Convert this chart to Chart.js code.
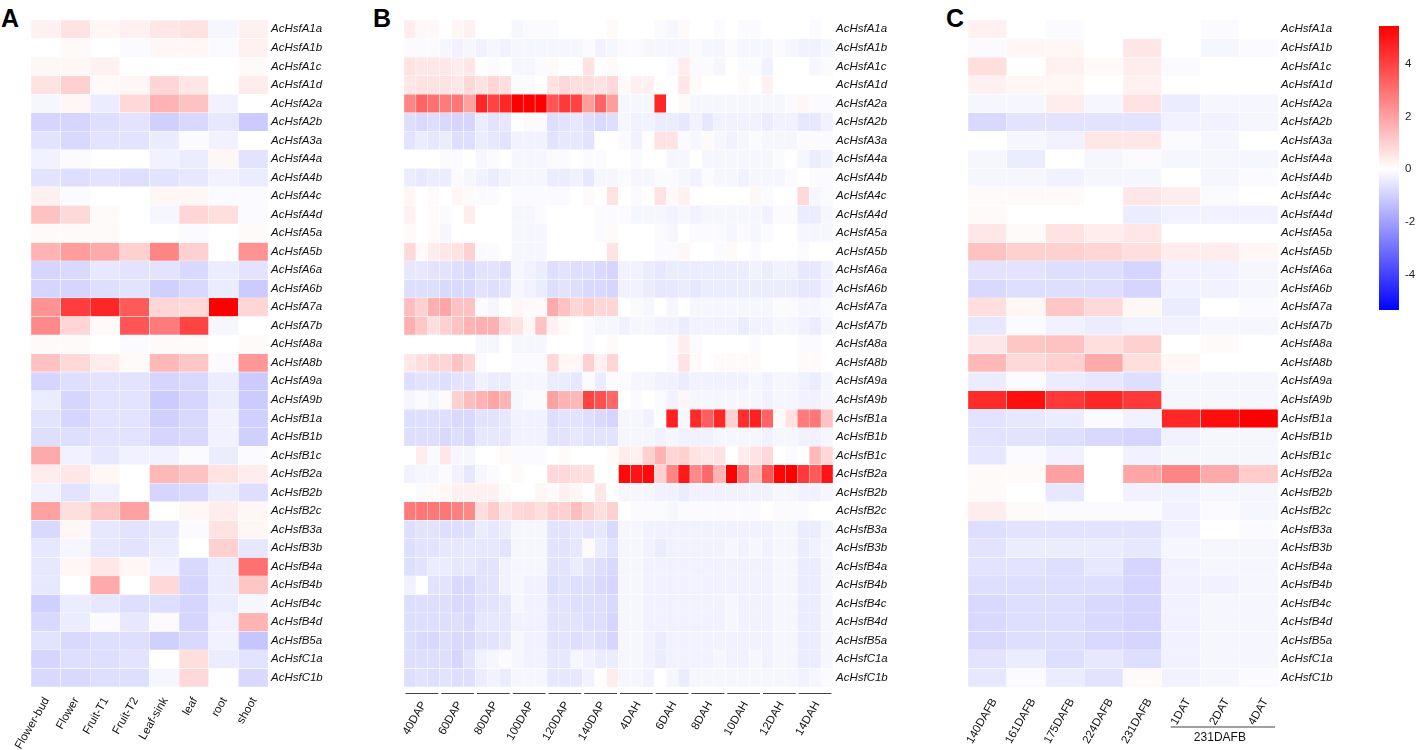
<!DOCTYPE html>
<html>
<head>
<meta charset="utf-8">
<script src="https://cdn.jsdelivr.net/npm/chart.js@4.4.1/dist/chart.umd.min.js"></script>
<style>
  body { margin: 0; background: #fff; }
  #wrap { position: relative; width: 1418px; height: 750px; overflow: hidden; }
  canvas { position: absolute; top: 0; }
  .tag { position: absolute; font: bold 25px "Liberation Sans", Arial, sans-serif; color: #000; }
</style>
</head>
<body>
<div id="wrap">
  <div class="tag" style="left:1px;top:4px">A</div>
  <div class="tag" style="left:373px;top:4px">B</div>
  <div class="tag" style="left:946px;top:4px">C</div>
  <canvas id="panelA" width="372" height="750" style="left:0"></canvas>
  <canvas id="panelB" width="540" height="750" style="left:372px"></canvas>
  <canvas id="panelC" width="450" height="750" style="left:912px"></canvas>
  <canvas id="legend" width="56" height="330" style="left:1362px"></canvas>
</div>
<script>
'use strict';
const genes = ['AcHsfA1a','AcHsfA1b','AcHsfA1c','AcHsfA1d','AcHsfA2a','AcHsfA2b','AcHsfA3a','AcHsfA4a','AcHsfA4b','AcHsfA4c','AcHsfA4d','AcHsfA5a','AcHsfA5b','AcHsfA6a','AcHsfA6b','AcHsfA7a','AcHsfA7b','AcHsfA8a','AcHsfA8b','AcHsfA9a','AcHsfA9b','AcHsfB1a','AcHsfB1b','AcHsfB1c','AcHsfB2a','AcHsfB2b','AcHsfB2c','AcHsfB3a','AcHsfB3b','AcHsfB4a','AcHsfB4b','AcHsfB4c','AcHsfB4d','AcHsfB5a','AcHsfC1a','AcHsfC1b'];

// panel A: tissues
const tissues = ['Flower-bud','Flower','Fruit-T1','Fruit-T2','Leaf-sink','leaf','root','shoot'];
const tissueVals = [
  [0.3,0.6,0.2,0.3,0.5,0.6,-0.2,0.3],
  [0,0.1,0,-0.1,0.2,0.2,-0.1,0.3],
  [0.2,0.2,0.3,0,0,0,0,0.1],
  [0.6,1.0,0.1,0.2,0.9,0.5,0,0.4],
  [-0.2,0.2,-0.4,0.8,1.6,1.3,-0.3,0],
  [-0.9,-0.9,-0.7,-0.6,-1.0,-0.8,-0.5,-1.1],
  [-0.6,-0.8,-0.6,-0.6,-0.4,-0.1,-0.3,0],
  [-0.3,-0.1,0,0,-0.3,-0.4,0.2,-0.6],
  [-0.6,-0.7,-0.6,-0.7,-0.6,-0.5,-0.3,-0.4],
  [0.3,-0.1,0,0,0.2,0.2,-0.1,-0.1],
  [1.3,0.8,0.1,0,-0.2,0.9,0.7,-0.1],
  [0.1,0.1,0.1,0,0,-0.1,0,0.1],
  [1.6,2.1,1.8,1.0,2.6,1.0,0,2.3],
  [-0.9,-0.8,-0.5,-0.6,-0.6,-0.8,-0.4,-0.6],
  [-0.9,-0.9,-0.7,-0.6,-1.0,-0.8,-0.4,-1.1],
  [2.3,4.1,4.6,3.5,0.9,0.8,5.4,0.9],
  [2.5,0.9,0.1,3.6,2.8,4.0,-0.2,0],
  [0.1,0.1,0,-0.1,0.1,0.1,0,0.1],
  [1.3,0.8,0.4,0.1,1.5,1.2,-0.1,2.2],
  [-0.9,-0.7,-0.6,-0.6,-0.9,-0.8,-0.4,-1.1],
  [-0.4,-0.9,-0.6,-0.6,-1.1,-0.9,-0.4,-1.1],
  [-0.6,-0.9,-0.6,-0.6,-1.0,-0.8,-0.3,-1.0],
  [-0.7,-0.7,-0.6,-0.6,-0.9,-0.8,-0.3,-1.0],
  [1.8,-0.3,-0.5,-0.3,-0.3,-0.1,-0.4,-0.1],
  [0.4,0.5,0.2,0,1.5,1.3,0.6,0.4],
  [-0.3,-0.6,-0.3,0,-0.9,-0.8,-0.4,-0.7],
  [2.0,0.7,1.2,2.0,0,0.2,0.4,0.2],
  [-0.8,0.2,-0.5,-0.6,-0.5,-0.1,0.6,0.2],
  [-0.5,-0.2,-0.5,-0.6,-0.4,0,1.0,-0.5],
  [-0.5,0.2,0.5,0.2,-0.3,-0.8,-0.4,3.0],
  [-0.5,0,1.8,0,0.8,-0.9,-0.4,1.2],
  [-1.0,-0.4,-0.5,-0.7,-0.7,-0.9,-0.4,-0.2],
  [-0.8,-0.4,-0.1,-0.5,-0.1,-0.9,-0.3,1.6],
  [-0.6,-0.8,-0.7,-0.7,-1.0,-0.8,-0.3,-1.2],
  [-0.9,-0.7,-0.7,-0.6,0,0.7,-0.4,-0.6],
  [-0.8,-0.8,-0.7,-0.7,-0.2,0.8,0,-0.8]
];

// panel B: fruit development and storage, 3 replicates per stage
const devStages = ['40DAP','60DAP','80DAP','100DAP','120DAP','140DAP','4DAH','6DAH','8DAH','10DAH','12DAH','14DAH'];
const devReps = ['1','2','3'];
const devVals = [
  [0.4,0.15,0.15,0,0.2,0.3,0,0,0,-0.2,-0.1,-0.1,-0.1,0,0,0,0,0.1, 0,0,0,-0.1,-0.2,0.1,0,0,-0.1,0,-0.1,-0.1,0,0,0,0,-0.1,0],
  [-0.1,-0.1,-0.1,-0.2,-0.3,-0.2,-0.3,-0.2,-0.3,-0.2,-0.2,-0.2,-0.2,-0.2,-0.2,-0.1,-0.3,-0.2, -0.1,-0.1,-0.2,-0.2,-0.2,-0.2,-0.1,-0.2,-0.2,-0.1,-0.2,-0.2,-0.2,-0.1,-0.2,-0.3,-0.3,-0.2],
  [0.6,0.5,0.5,0.5,0.4,0.5,0,-0.1,0,-0.2,-0.2,-0.1,0.1,0,0,0.6,0,0.1, 0,0,0,0,-0.1,0.4,-0.1,-0.1,-0.2,0,-0.1,-0.1,-0.3,0,0,0,-0.2,-0.1],
  [0.5,0.6,0.6,0.6,0.5,0.8,0.6,0.9,0.7,-0.1,-0.1,0,0.6,0.8,0.7,0.7,0.6,0.8, 0.1,0.3,0.3,0,0,0.5,0.1,0,0,0,0.1,0,0.3,0,0,0,0,0],
  [2.6,3.3,3.0,2.8,2.9,2.0,4.6,4.0,4.6,5.4,5.4,5.4,3.6,4.2,4.0,2.1,3.3,2.1, -0.2,-0.2,-0.2,4.6,0,0.1,-0.2,-0.2,-0.2,-0.2,-0.2,-0.2,-0.2,-0.2,-0.1,0.2,-0.1,-0.1],
  [-0.7,-0.8,-0.7,-0.8,-0.9,-0.9,-0.4,-0.6,-0.5,0,0.1,-0.1,-0.7,-0.6,-0.5,-0.7,-0.8,-0.7, -0.2,-0.3,-0.3,-0.4,-0.4,-0.5,-0.3,-0.5,-0.3,-0.3,-0.3,-0.3,-0.4,-0.3,-0.3,-0.5,-0.5,-0.3],
  [-0.6,-0.4,-0.5,-0.4,-0.7,-0.7,-0.4,-0.5,-0.6,-0.3,-0.3,-0.3,-0.6,-0.5,-0.5,-0.6,0,0, -0.1,-0.3,0,0.6,0.6,-0.1,-0.2,0.1,-0.2,-0.3,-0.2,-0.1,-0.2,-0.2,-0.2,-0.1,-0.1,-0.1],
  [0,0,0,-0.1,-0.1,0,-0.2,-0.1,0,-0.2,-0.2,-0.2,-0.1,-0.1,0,-0.1,-0.1,0, 0,-0.1,0,0,-0.2,-0.2,0,-0.2,-0.2,-0.2,-0.2,-0.2,-0.2,-0.1,0,-0.2,-0.4,-0.3],
  [-0.4,-0.5,-0.4,-0.4,-0.1,-0.2,-0.3,-0.4,-0.3,-0.2,-0.2,-0.2,-0.4,-0.4,-0.3,-0.5,-0.2,-0.2, -0.1,-0.2,-0.2,-0.1,-0.1,-0.2,-0.3,-0.1,-0.2,-0.2,-0.3,-0.2,-0.2,-0.2,-0.1,0,-0.1,-0.1],
  [0.2,0,0.1,0,0.2,0.1,-0.1,-0.1,0,-0.1,-0.1,-0.1,-0.1,-0.1,0,0.1,0,0.6, 0,-0.1,0,0.6,0.1,0.3,0,0,0,0,0,0.2,-0.1,0,0,0.8,-0.2,-0.1],
  [0.3,0,0.1,-0.1,0,0.4,0,0,0,-0.2,-0.2,-0.1,0,0,0,0,-0.1,-0.1, -0.1,-0.2,-0.2,-0.2,-0.3,-0.2,-0.3,-0.2,-0.2,-0.2,-0.2,-0.2,-0.3,-0.1,-0.1,-0.4,-0.4,-0.2],
  [0.1,0,0.1,-0.2,0,0,0,0,0,-0.2,-0.2,-0.2,0,0,0,0,-0.1,0.1, 0,0,0,-0.1,-0.2,0,-0.1,-0.1,-0.1,-0.2,-0.1,-0.2,-0.1,0,0,-0.2,-0.2,-0.2],
  [0.8,0.1,0.4,0.5,0.6,1.0,-0.1,-0.1,0,-0.2,-0.2,-0.2,0,0,0,0,0,0.6, 0,0,0,-0.1,-0.1,0.2,0,0,-0.1,0.1,0,-0.1,0,0,0,-0.1,0,0],
  [-0.5,-0.5,-0.6,-0.6,-0.7,-0.8,-0.6,-0.6,-0.7,-0.2,-0.3,-0.4,-0.7,-0.6,-0.7,-0.7,-0.8,-0.9, -0.3,-0.3,-0.4,-0.5,-0.4,-0.4,-0.4,-0.4,-0.4,-0.4,-0.4,-0.3,-0.4,-0.3,-0.3,-0.5,-0.5,-0.3],
  [-0.7,-0.7,-0.7,-0.8,-0.8,-0.8,-0.6,-0.7,-0.6,-0.2,-0.3,-0.4,-0.7,-0.6,-0.7,-0.8,-0.8,-0.9, -0.3,-0.3,-0.4,-0.5,-0.5,-0.4,-0.5,-0.4,-0.4,-0.4,-0.4,-0.4,-0.4,-0.4,-0.4,-0.5,-0.5,-0.3],
  [1.4,1.0,1.7,1.9,1.3,1.3,-0.1,-0.2,0,0.2,0.1,0.1,1.8,1.3,0.9,1.1,0.9,0.9, 0,-0.1,-0.2,0,-0.2,0,-0.2,-0.2,-0.2,-0.2,-0.2,-0.2,-0.2,-0.1,-0.1,-0.2,-0.2,-0.1],
  [1.7,1.2,0.7,1.0,1.3,1.6,1.7,1.7,0.8,0.6,0.2,1.3,0.3,0.1,0,-0.1,-0.2,-0.2, -0.3,-0.2,-0.2,-0.3,-0.3,-0.4,-0.3,-0.3,-0.3,-0.3,-0.4,-0.3,-0.3,-0.2,-0.2,-0.3,-0.4,-0.2],
  [0,0,0,0,0,0,-0.2,-0.2,0,-0.2,-0.2,-0.2,0,0,0,-0.1,0,0.1, 0,0,0,0,-0.1,0.4,-0.1,0,0,0,0,-0.1,0,0,0,-0.1,-0.1,0],
  [0.5,0.7,0.9,0.9,1.3,0.9,-0.1,0,0,-0.1,-0.1,-0.1,0.8,0.2,0.2,1.0,0.3,0.9, 0,0,0,0,-0.1,0.6,0.1,0,0.1,0.1,0.1,0.1,0,0,0,0.1,0.1,0],
  [-0.7,-0.6,-0.6,-0.7,-0.6,-0.6,-0.3,-0.4,-0.4,-0.2,-0.2,-0.2,-0.4,-0.4,-0.5,-0.1,-0.4,-0.1, -0.1,-0.2,-0.2,-0.3,-0.3,-0.4,-0.3,-0.3,-0.3,-0.3,-0.3,-0.2,-0.3,-0.2,-0.2,-0.3,-0.4,-0.2],
  [-0.2,-0.1,-0.2,0.1,1.0,1.4,1.6,1.9,1.6,-0.2,-0.1,-0.1,2.0,1.6,1.5,4.0,3.7,3.2, 0,-0.1,0,-0.1,-0.3,0.2,-0.2,-0.2,-0.2,-0.2,-0.2,-0.2,-0.3,-0.2,-0.2,-0.3,-0.3,-0.2],
  [-0.7,-0.7,-0.7,-0.7,-0.8,-0.8,-0.6,-0.6,-0.5,-0.3,-0.3,-0.3,-0.7,-0.6,-0.6,-0.7,-0.8,-0.9, -0.2,-0.2,-0.3,0,4.7,-0.2,4.5,3.4,4.6,1.0,4.4,4.7,3.3,0.1,0.6,2.8,2.9,1.3],
  [-0.7,-0.7,-0.7,-0.8,-0.7,-0.8,-0.5,-0.5,-0.5,-0.3,-0.3,-0.3,-0.6,-0.6,-0.5,-0.6,-0.6,-0.6, -0.2,-0.2,-0.2,-0.3,-0.2,-0.3,-0.3,-0.3,-0.2,-0.2,-0.2,-0.2,-0.3,-0.2,-0.2,-0.3,-0.3,-0.2],
  [0,0.4,-0.1,0.5,-0.2,-0.2,0,0,0.1,-0.1,-0.1,-0.1,0,0.1,0,0,0,0.1, 0.4,0.3,1.0,1.6,0.9,1.0,0.6,0.5,0.6,0,0.4,0.6,0.8,0,-0.1,0,1.5,0.8],
  [-0.3,-0.2,-0.2,-0.1,-0.3,-0.5,-0.2,-0.1,0,0.1,0,0,0.8,0.8,0.7,0.7,0,0, 5.2,5.0,5.2,1.0,2.6,4.9,2.5,3.2,1.6,5.4,2.9,1.5,3.6,5.3,5.4,4.2,3.5,5.0],
  [0,-0.1,0.1,0.2,0.3,0.3,0.3,0.3,0.1,0,0,0.2,0.1,0.3,0.2,0,0.5,0, -0.2,-0.2,-0.2,-0.3,-0.3,-0.4,-0.3,-0.3,-0.3,-0.3,-0.3,-0.3,-0.3,-0.2,-0.2,-0.3,-0.3,-0.2],
  [2.8,2.9,2.9,2.9,2.7,2.5,0.7,1.1,0.6,0.8,0.9,0.7,1.0,1.0,1.4,1.0,0.7,1.0, 0,-0.1,-0.1,-0.1,-0.2,-0.1,-0.1,-0.1,-0.1,-0.1,-0.1,-0.1,0,-0.1,-0.1,-0.1,0,0],
  [-0.7,-0.6,-0.6,-0.7,-0.7,-0.7,-0.4,-0.5,-0.4,-0.2,-0.2,-0.2,-0.6,-0.6,-0.5,-0.6,-0.5,-0.8, -0.2,-0.2,-0.3,-0.3,-0.3,-0.3,-0.3,-0.3,-0.3,-0.3,-0.3,-0.3,-0.3,-0.2,-0.2,-0.4,-0.4,-0.2],
  [-0.7,-0.6,-0.6,-0.5,-0.5,-0.5,-0.5,-0.5,-0.6,-0.2,-0.2,-0.2,-0.6,-0.6,-0.5,0.1,-0.4,-0.6, -0.2,-0.2,-0.3,-0.4,-0.3,-0.3,-0.3,-0.3,-0.3,-0.2,-0.3,-0.2,-0.3,-0.2,-0.2,-0.4,-0.3,-0.2],
  [-0.7,-0.6,-0.4,-0.4,-0.5,-0.5,-0.6,-0.6,-0.3,-0.2,-0.2,-0.2,-0.6,-0.6,-0.4,-0.6,-0.7,-0.8, -0.2,-0.2,-0.3,-0.3,-0.3,-0.3,-0.3,-0.3,-0.3,-0.3,-0.3,-0.3,-0.3,-0.2,-0.2,-0.4,-0.4,-0.2],
  [-0.3,0,-0.6,-0.6,-0.8,-0.8,-0.6,-0.6,-0.3,-0.2,-0.3,-0.3,-0.7,-0.6,-0.7,-0.7,-0.8,-0.9, -0.2,-0.2,-0.3,-0.3,-0.3,-0.3,-0.3,-0.3,-0.3,-0.3,-0.3,-0.3,-0.3,-0.2,-0.2,-0.4,-0.4,-0.2],
  [-0.7,-0.7,-0.7,-0.7,-0.8,-0.8,-0.6,-0.6,-0.5,-0.2,-0.3,-0.3,-0.6,-0.6,-0.7,-0.7,-0.7,-0.8, -0.2,-0.2,-0.3,-0.3,-0.3,-0.3,-0.3,-0.3,-0.3,-0.2,-0.3,-0.3,-0.3,-0.2,-0.2,-0.4,-0.4,-0.2],
  [-0.7,-0.7,-0.7,-0.7,-0.7,-0.8,-0.5,-0.5,-0.5,-0.3,-0.3,-0.3,-0.6,-0.6,-0.6,-0.7,-0.7,-0.9, -0.2,-0.2,-0.3,-0.3,-0.3,-0.3,-0.3,-0.3,-0.3,-0.2,-0.3,-0.3,-0.3,-0.2,-0.2,-0.4,-0.4,-0.2],
  [-0.7,-0.8,-0.8,-0.7,-0.8,-0.8,-0.6,-0.6,-0.5,-0.2,-0.3,-0.3,-0.6,-0.6,-0.7,-0.6,-0.7,-0.9, -0.2,-0.2,-0.3,-0.4,-0.3,-0.3,-0.3,-0.3,-0.3,-0.3,-0.3,-0.3,-0.3,-0.2,-0.2,-0.4,-0.4,-0.2],
  [-0.7,-0.7,-0.7,-0.7,-0.9,-0.6,-0.3,-0.2,-0.1,-0.2,-0.3,-0.3,-0.5,-0.5,-0.2,-0.3,-0.4,-0.4, -0.2,-0.2,-0.3,-0.4,-0.3,-0.3,-0.3,-0.3,-0.2,-0.3,-0.3,-0.2,-0.3,-0.2,-0.2,-0.4,-0.4,-0.2],
  [-0.7,-0.6,-0.7,-0.6,-0.7,-0.7,-0.4,-0.3,-0.4,-0.2,-0.2,-0.2,-0.5,-0.5,-0.5,-0.3,0,0.4, -0.2,-0.2,-0.3,0,-0.2,-0.4,-0.2,-0.2,-0.2,-0.2,-0.2,-0.2,-0.2,-0.2,-0.2,-0.3,-0.2,-0.1]
];

// panel C: fruit on the vine and after treatment
const vineStages = ['140DAFB','161DAFB','175DAFB','224DAFB','231DAFB','1DAT','2DAT','4DAT'];
const treatGroup = '231DAFB';
const vineVals = [
  [0.3,0,-0.1,0,0,0,-0.1,0],
  [-0.1,0.2,0.2,0,0.5,0,-0.2,-0.1],
  [0.7,0,0.3,0.1,0.4,-0.1,0,0],
  [0.3,0.2,0.2,0,0.3,0,0,0],
  [-0.2,-0.2,0.4,-0.2,0.6,-0.4,-0.2,-0.2],
  [-0.8,-0.6,-0.6,-0.6,-0.6,-0.3,-0.3,-0.2],
  [0,-0.2,-0.3,0.5,0.5,-0.1,-0.2,0],
  [-0.2,-0.4,0,-0.2,-0.1,-0.2,-0.2,-0.2],
  [-0.2,-0.2,-0.3,-0.2,-0.2,0,-0.2,-0.1],
  [0.1,0.1,0.1,0,0.5,0.4,-0.1,0],
  [0.1,0,0,0,-0.4,-0.3,-0.3,-0.3],
  [0.5,0.1,0.6,0.4,0.5,0,0,0],
  [1.3,1.0,1.0,0.9,0.7,0.4,0.4,0.2],
  [-0.6,-0.6,-0.7,-0.7,-0.9,-0.3,-0.3,-0.2],
  [-0.8,-0.7,-0.7,-0.7,-0.9,-0.3,-0.3,-0.2],
  [0.7,0.2,1.2,0.8,0.2,-0.4,0,-0.1],
  [-0.5,-0.1,-0.3,-0.4,-0.3,-0.3,-0.2,-0.2],
  [0.5,1.2,1.3,0.7,1.0,0,0.1,0],
  [1.5,0.8,1.0,1.8,0.7,0.2,0,0],
  [-0.4,-0.1,-0.4,-0.5,-0.7,-0.2,-0.2,-0.2],
  [4.5,5.1,4.2,4.6,4.2,-0.2,-0.2,-0.2],
  [-0.6,-0.5,-0.4,-0.1,-0.3,4.6,5.1,5.4],
  [-0.6,-0.6,-0.7,-0.8,-0.9,-0.3,-0.2,-0.2],
  [-0.5,-0.1,-0.3,0,-0.3,-0.2,-0.2,-0.2],
  [0.1,0.1,2.0,0,1.9,2.6,1.8,1.1],
  [0.1,0,-0.5,0,-0.3,-0.3,-0.2,-0.2],
  [0.4,0.1,-0.1,-0.1,-0.1,-0.3,-0.1,-0.2],
  [-0.7,-0.6,-0.6,-0.6,-0.6,-0.3,0,-0.1],
  [-0.6,-0.4,-0.4,-0.4,-0.5,-0.2,-0.2,-0.2],
  [-0.6,-0.6,-0.7,-0.5,-0.9,-0.3,-0.2,-0.2],
  [-0.7,-0.7,-0.7,-0.7,-0.9,-0.3,-0.3,-0.2],
  [-0.8,-0.7,-0.7,-0.8,-0.9,-0.3,-0.2,-0.2],
  [-0.8,-0.7,-0.7,-0.8,-0.9,-0.3,-0.2,-0.2],
  [-0.8,-0.7,-0.7,-0.8,-0.9,-0.3,-0.2,-0.2],
  [-0.6,-0.4,-0.7,-0.5,-0.7,-0.3,-0.2,-0.2],
  [-0.5,-0.1,-0.4,-0.6,0.1,-0.3,-0.2,-0.1]
];

// colour key
const keyMin = -5.35;
const keyMax = 5.45;
const keyTicks = [-4, -2, 0, 2, 4];

const FONT = '"Liberation Sans", Arial, sans-serif';

const heat = (v) => {
	const t = Math.min(Math.abs(v) / 5.4, 1);
	const c = Math.round(255 * (1 - t));
	return v >= 0 ? `rgb(255,${c},${c})` : `rgb(${c},${c},255)`;
};

// draws a heatmap: one stacked dataset per gene row
const makeHeatmap = (id, cols, vals, cfg) => {
	const datasets = genes.map((g, r) => ({
		label: g,
		data: cols.map(() => 1),
		backgroundColor: vals[r].map(heat),
		borderColor: '#ffffff',
		borderWidth: 0.5,
		borderSkipped: false,
		barPercentage: 1,
		categoryPercentage: 1,
	}));
	return new Chart(document.getElementById(id), {
		type: 'bar',
		data: { labels: cols, datasets },
		options: {
			responsive: false,
			animation: false,
			events: [],
			layout: { padding: { left: cfg.left, top: 20, right: 0, bottom: 0 } },
			plugins: { legend: { display: false }, tooltip: { enabled: false } },
			scales: {
				x: {
					stacked: true,
					grid: { display: false, drawTicks: false },
					border: { display: false },
					ticks: {
						autoSkip: false,
						minRotation: 60,
						maxRotation: 60,
						padding: cfg.xPad,
						labelOffset: cfg.xShift,
						color: '#111',
						font: { family: FONT, size: 11.5 },
						callback: cfg.xLabel,
					},
					afterFit: (s) => { s.height = 63; },
				},
				y: {
					stacked: true,
					reverse: true,
					min: 0,
					max: genes.length,
					position: 'right',
					grid: { display: false, drawTicks: false },
					border: { display: false },
					afterBuildTicks: (s) => { s.ticks = genes.map((g, i) => ({ value: i + 0.5 })); },
					ticks: {
						autoSkip: false,
						padding: 3,
						color: '#111',
						font: { family: FONT, size: 11.5, style: 'italic' },
						callback: (v, i) => genes[i],
					},
					afterFit: (s) => { s.width = cfg.right; },
				},
			},
		},
		plugins: cfg.plugins || [],
	});
};

makeHeatmap('panelA', tissues, tissueVals, {
	left: 31, right: 104, xPad: 8, xShift: 1,
	xLabel: (v, i) => tissues[i],
});

// panel B columns = stage x replicate, label only the middle replicate
const devCols = [];
devStages.forEach((s) => devReps.forEach((r) => devCols.push(`${s}-${r}`)));

const stageLines = {
	id: 'stageLines',
	afterDraw(chart) {
		const x = chart.scales.x;
		const ctx = chart.ctx;
		const half = (x.getPixelForValue(1) - x.getPixelForValue(0)) / 2;
		const y = chart.chartArea.bottom + 6.5;
		ctx.save();
		ctx.strokeStyle = '#444';
		ctx.lineWidth = 1.2;
		devStages.forEach((s, g) => {
			ctx.beginPath();
			ctx.moveTo(x.getPixelForValue(g * 3) - half + 1.5, y);
			ctx.lineTo(x.getPixelForValue(g * 3 + 2) + half - 1.5, y);
			ctx.stroke();
		});
		ctx.restore();
	},
};

makeHeatmap('panelB', devCols, devVals, {
	left: 32, right: 79, xPad: 12, xShift: 2,
	xLabel: (v, i) => (i % 3 === 1 ? devStages[Math.floor(i / 3)] : ''),
	plugins: [stageLines],
});

const treatLine = {
	id: 'treatLine',
	afterDraw(chart) {
		const x = chart.scales.x;
		const ctx = chart.ctx;
		const half = (x.getPixelForValue(1) - x.getPixelForValue(0)) / 2;
		const y = chart.chartArea.bottom + 40;
		const x1 = x.getPixelForValue(5) - half + 9;
		const x2 = x.getPixelForValue(7) + half - 3;
		ctx.save();
		ctx.strokeStyle = '#444';
		ctx.lineWidth = 1.2;
		ctx.beginPath();
		ctx.moveTo(x1, y);
		ctx.lineTo(x2, y);
		ctx.stroke();
		ctx.fillStyle = '#111';
		ctx.font = `12px ${FONT}`;
		ctx.textAlign = 'center';
		ctx.textBaseline = 'top';
		ctx.fillText(treatGroup, (x1 + x2) / 2 - 3, y + 5);
		ctx.restore();
	},
};

makeHeatmap('panelC', vineStages, vineVals, {
	left: 56, right: 84, xPad: 9, xShift: 7,
	xLabel: (v, i) => vineStages[i],
	plugins: [treatLine],
});

// colour key bar
new Chart(document.getElementById('legend'), {
	type: 'bar',
	data: {
		labels: ['key'],
		datasets: [{
			data: [[keyMin, keyMax]],
			barPercentage: 1,
			categoryPercentage: 1,
			borderWidth: 0,
			backgroundColor: (c) => {
				const area = c.chart.chartArea;
				if (!area) return '#fff';
				const y = c.chart.scales.y;
				const g = c.chart.ctx.createLinearGradient(0, y.getPixelForValue(keyMax), 0, y.getPixelForValue(keyMin));
				const span = keyMax - keyMin;
				[keyMax, 4, 2, 0, -2, -4, keyMin].forEach((v) => {
					g.addColorStop((keyMax - v) / span, heat(v));
				});
				return g;
			},
		}],
	},
	options: {
		responsive: false,
		animation: false,
		events: [],
		layout: { padding: { left: 17, top: 26, right: 0, bottom: 20 } },
		plugins: { legend: { display: false }, tooltip: { enabled: false } },
		scales: {
			x: { display: false },
			y: {
				min: keyMin,
				max: keyMax,
				position: 'right',
				grid: { display: false, drawTicks: false },
				border: { display: false },
				afterBuildTicks: (s) => { s.ticks = keyTicks.map((v) => ({ value: v })); },
				ticks: { padding: 6, color: '#222', font: { family: FONT, size: 11.5 } },
				afterFit: (s) => { s.width = 19; },
			},
		},
	},
});
</script>
</body>
</html>
